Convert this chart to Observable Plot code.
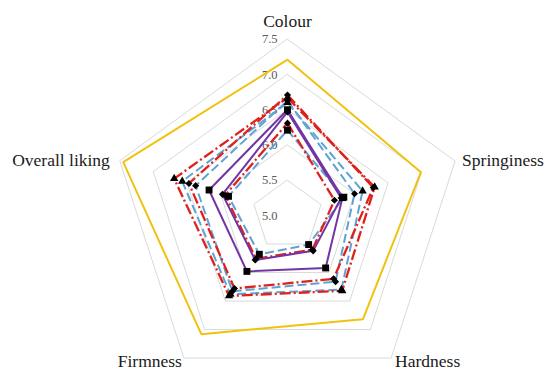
<!DOCTYPE html>
<html>
<head>
<meta charset="utf-8">
<script src="https://cdn.jsdelivr.net/npm/d3@7"></script>
<script src="https://cdn.jsdelivr.net/npm/@observablehq/plot@0.6"></script>
<style>
  html, body { margin: 0; padding: 0; background: #ffffff; }
  #chart svg { display: block; }
  #chart svg text { font-family: "Liberation Serif", "Times New Roman", Times, "Nimbus Roman", "DejaVu Serif", "Noto Serif", serif !important; }
</style>
</head>
<body>
<div id="chart"></div>
<script>
// Radar axes, clockwise from the top
const categories = ["Colour", "Springiness", "Hardness", "Firmness", "Overall liking"];
// Radial tick values (the lowest one sits at the centre)
const ticks = [5.0, 5.5, 6.0, 6.5, 7.0, 7.5];
const tickLabels = ["5.0", "5.5", "6.0", "6.5", "7.0", "7.5"];

// Sensory scores per sample, in the order of `categories`
const sampleA = [7.21, 6.99, 6.82, 7.08, 7.45];
const sampleB = [6.67, 6.30, 6.32, 6.41, 6.69];
const sampleC = [6.60, 6.12, 6.30, 6.38, 6.57];
const sampleD = [6.71, 6.28, 6.11, 6.28, 6.47];
const sampleE = [6.63, 6.00, 6.16, 6.33, 6.37];
const sampleF = [6.50, 5.82, 5.92, 5.98, 6.17];
const sampleG = [6.47, 5.80, 5.62, 5.78, 5.97];
const sampleH = [6.21, 5.84, 5.51, 5.68, 5.88];
const sampleI = [6.31, 5.70, 5.60, 5.76, 5.93];

const samples = [sampleA, sampleC, sampleE, sampleH, sampleB, sampleD, sampleI, sampleF, sampleG];
const sampleStroke = ["#f0c20f", "#5fa2d4", "#5fa2d4", "#5fa2d4", "#e0201b", "#e0201b", "#e0201b", "#7334a4", "#7334a4"];
const sampleDash = [null, "9,4", "9,4", "9,4", "11,3,2,3", "11,3,2,3", "11,3,2,3", null, null];
const sampleWidth = [2, 2, 2, 2, 2.3, 2.3, 2.3, 2, 2];
const sampleMarker = [null, "triangle", "diamond2", "square", "triangle", "diamond2", "diamond2", "square", "diamond2"];

const rMin = ticks[0];
const n = categories.length;
const angle = (i) => (i * 2 * Math.PI) / n;
const toX = (v, i) => (v - rMin) * Math.sin(angle(i));
const toY = (v, i) => (v - rMin) * Math.cos(angle(i));

// Pentagonal grid rings
const gridRows = ticks.slice(1).flatMap((t) =>
  categories.map((c, i) => ({ tick: t, x: toX(t, i), y: toY(t, i) }))
);

// One closed path per sample
const sampleRows = samples.map((vals) =>
  vals.map((v, i) => ({ category: categories[i], value: v, x: toX(v, i), y: toY(v, i) }))
);

const tickRows = ticks.map((t, k) => ({ label: tickLabels[k], x: 0, y: t - rMin }));
const rMax = ticks[ticks.length - 1];
const labelRow = (i) => [{ label: categories[i], x: toX(rMax, i), y: toY(rMax, i) }];

const W = 546, H = 371;
const unit = 70.5;   // pixels per score unit
const cx = 287, cy = 215;

const serif = "Liberation Serif, DejaVu Serif, serif";

const marks = [
  Plot.line(gridRows, { x: "x", y: "y", z: "tick", curve: "linear-closed", stroke: "#d9d9d9", strokeWidth: 1 }),
  Plot.text(tickRows, { x: "x", y: "y", text: "label", textAnchor: "end", dx: -10, fill: "#595959", fontSize: 12.5, fontFamily: serif })
];

sampleRows.forEach((rows, k) => {
  marks.push(Plot.line(rows, {
    x: "x", y: "y", curve: "linear-closed",
    stroke: sampleStroke[k], strokeWidth: sampleWidth[k],
    strokeDasharray: sampleDash[k] || undefined,
    strokeLinejoin: "miter", strokeLinecap: "butt"
  }));
});

sampleRows.forEach((rows, k) => {
  const m = sampleMarker[k];
  if (!m) return;
  const r = m === "square" ? 3.9 : m === "triangle" ? 3.1 : 3.2;
  marks.push(Plot.dot(rows, { x: "x", y: "y", symbol: m, r, fill: "#000000", stroke: "none" }));
});

const labelStyle = { text: "label", x: "x", y: "y", fill: "#1a1a1a", fontSize: 17.5, fontFamily: serif };
marks.push(
  Plot.text(labelRow(0), { ...labelStyle, textAnchor: "middle", dy: -18 }),
  Plot.text(labelRow(1), { ...labelStyle, textAnchor: "start", dx: 7, dy: -1 }),
  Plot.text(labelRow(2), { ...labelStyle, textAnchor: "start", dx: 4, dy: 3 }),
  Plot.text(labelRow(3), { ...labelStyle, textAnchor: "end", dx: -2, dy: 3 }),
  Plot.text(labelRow(4), { ...labelStyle, textAnchor: "end", dx: -10, dy: -1 })
);

const chart = Plot.plot({
  width: W,
  height: H,
  margin: 0,
  style: { background: "#ffffff", overflow: "visible", fontFamily: serif },
  x: { domain: [-cx / unit, (W - cx) / unit], range: [0, W], axis: null },
  y: { domain: [-(H - cy) / unit, cy / unit], range: [H, 0], axis: null },
  marks
});

document.getElementById("chart").appendChild(chart);
</script>
</body>
</html>
